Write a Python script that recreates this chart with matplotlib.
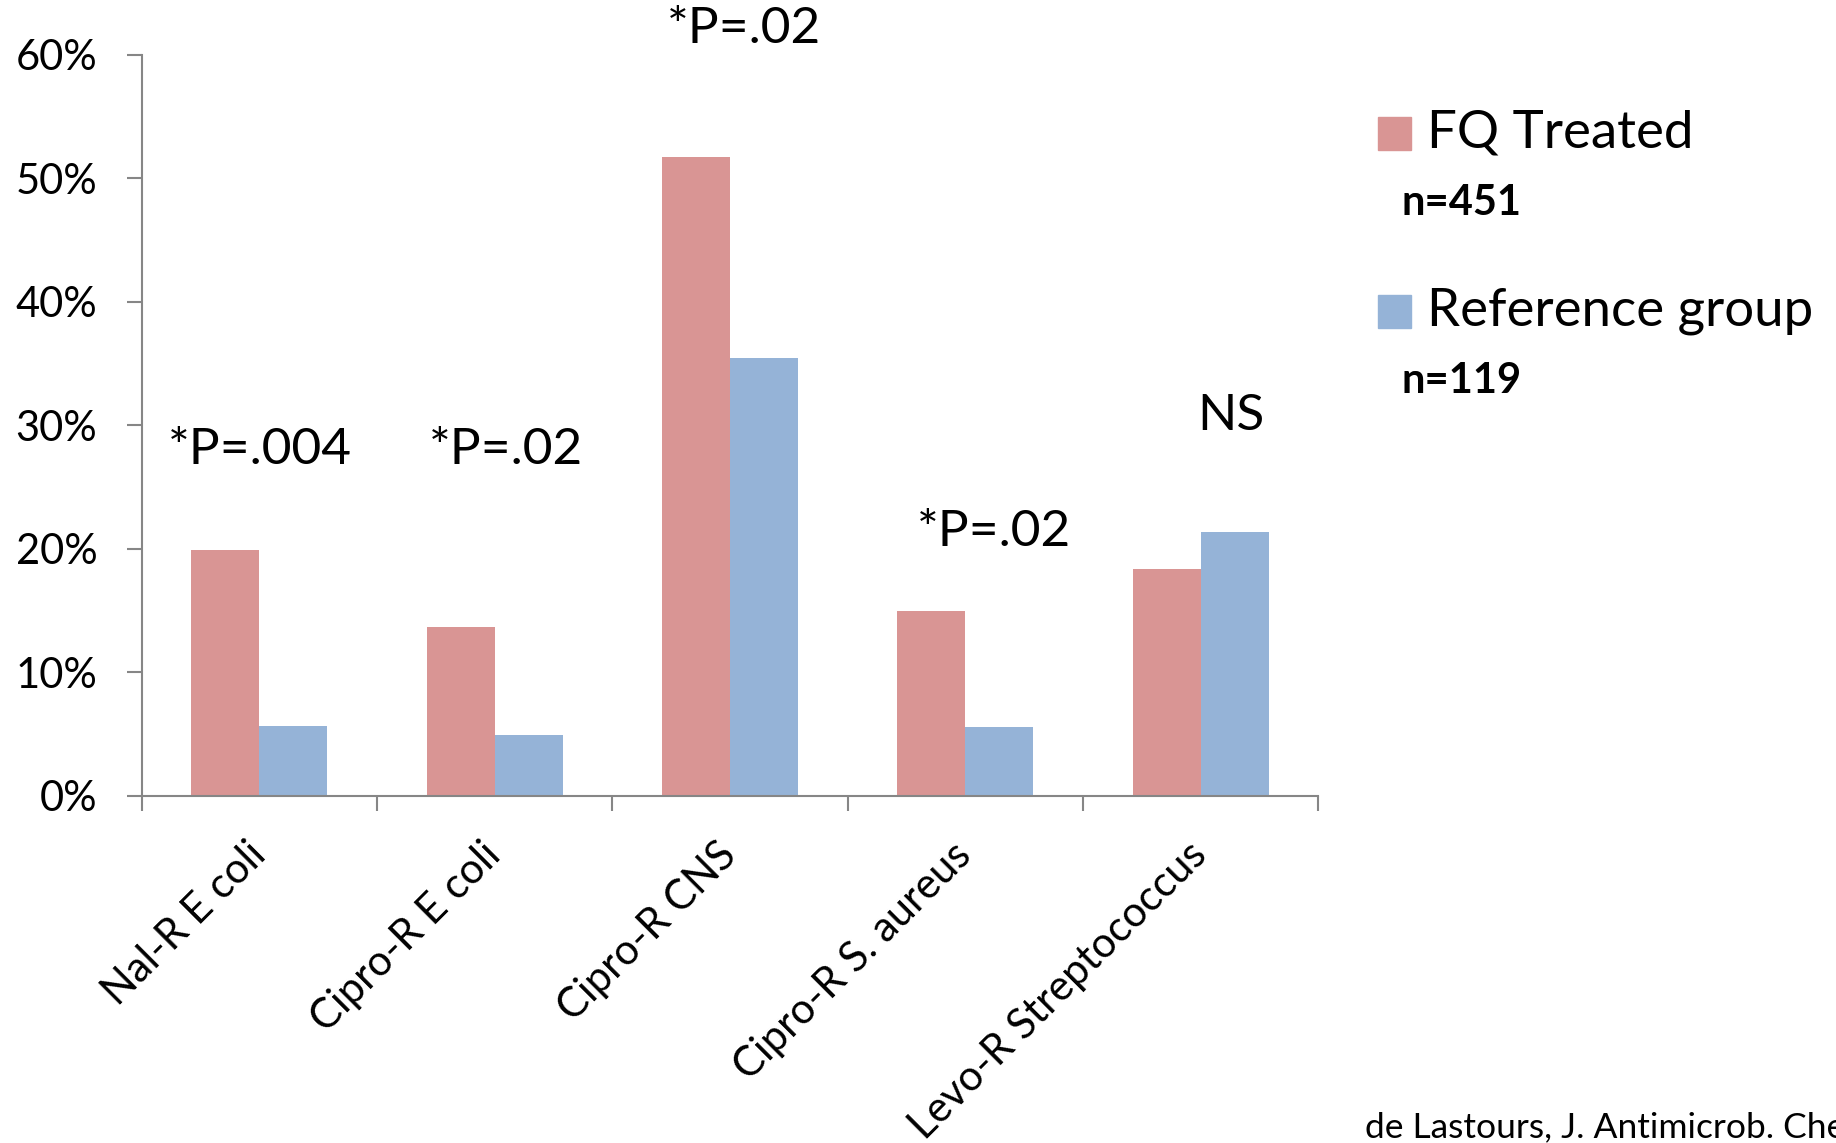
import numpy as np
import matplotlib.pyplot as plt
from matplotlib.patches import Rectangle

plt.rcParams['font.family'] = ['Lato', 'DejaVu Sans']

categories = ['Nal-R E coli', 'Cipro-R E coli', 'Cipro-R CNS',
              'Cipro-R S. aureus', 'Levo-R Streptococcus']
fq_treated = [19.9, 13.7, 51.7, 15.0, 18.4]
reference = [5.7, 4.9, 35.5, 5.6, 21.4]
series_names = ['FQ Treated', 'Reference group']
series_n = ['n=451', 'n=119']
pvalues = ['*P=.004', '*P=.02', '*P=.02', '*P=.02', 'NS']
pvalue_y = [28.0, 28.0, 62.1, 21.4, 30.8]
citation = 'de Lastours, J. Antimicrob. Chemother.'

red = '#D99594'
blue = '#95B3D7'
grey = '#868686'

fig = plt.figure(figsize=(18.36, 11.43), dpi=100)
ax = fig.add_axes([0.0772, 0.3036, 0.6408, 0.6483])

x = np.arange(len(categories))
w = 0.289
ax.bar(x - w/2, fq_treated, w, color=red, edgecolor='none')
ax.bar(x + w/2, reference, w, color=blue, edgecolor='none')

ax.set_xlim(-0.5, len(categories) - 0.5)
ax.set_ylim(0, 60)
ax.set_yticks(np.arange(0, 61, 10))
ax.set_yticklabels(['%d%%' % v for v in range(0, 61, 10)], fontsize=30)

# ticks between groups, labels at group centres
ax.set_xticks(np.arange(len(categories) + 1) - 0.5)
ax.set_xticklabels([])
ax.set_xticks(x, minor=True)
ax.set_xticklabels(categories, minor=True, rotation=45, ha='right',
                   va='center', rotation_mode='anchor', fontsize=30)
ax.tick_params(axis='x', which='minor', length=0, pad=38)
ax.tick_params(axis='both', which='major', length=11, width=1.5, color=grey)
ax.tick_params(axis='y', pad=21)

for s in ['top', 'right']:
    ax.spines[s].set_visible(False)
for s in ['left', 'bottom']:
    ax.spines[s].set_color(grey)
    ax.spines[s].set_linewidth(1.5)

dx = [0.0, 0.05, 0.06, 0.12, 0.13]
for i, (lab, yv) in enumerate(zip(pvalues, pvalue_y)):
    ax.text(x[i] + dx[i], yv, lab, ha='center', va='center', fontsize=37,
            clip_on=False)

# legend
W, H = 1836.0, 1143.0
colors = [red, blue]
sq_top = [117, 295]
for i in range(2):
    fig.add_artist(Rectangle((1378/W, 1 - (sq_top[i] + 33)/H), 33/W, 33/H,
                             transform=fig.transFigure, color=colors[i]))
    fig.text(1427/W, 1 - (sq_top[i] + 16)/H, series_names[i], fontsize=38,
             ha='left', va='center')
    fig.text(1401/W, 1 - (sq_top[i] + 86)/H, series_n[i], fontsize=30,
             fontweight='bold', ha='left', va='center')

fig.text(1365/W, 1 - 1137/H, citation, fontsize=25.5, ha='left',
         va='baseline')

fig.savefig('out.png', dpi=100)
